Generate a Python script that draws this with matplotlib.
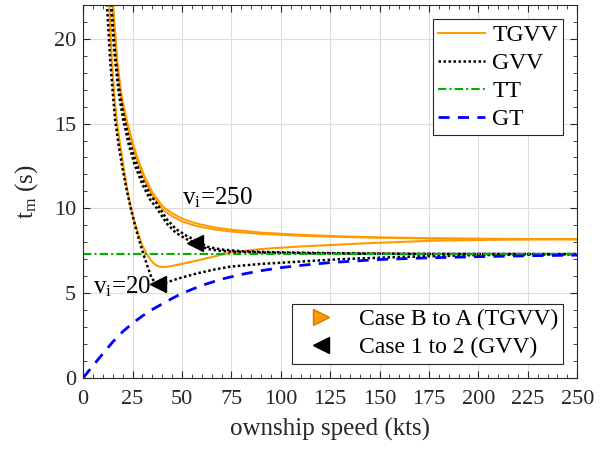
import matplotlib
matplotlib.use('Agg')
import matplotlib.pyplot as plt
from matplotlib.lines import Line2D
from matplotlib.ticker import MultipleLocator

plt.rcParams['font.family'] = ['Liberation Serif', 'DejaVu Serif']
plt.rcParams['mathtext.fontset'] = 'custom'
plt.rcParams['mathtext.rm'] = 'Liberation Serif'
plt.rcParams['mathtext.it'] = 'Liberation Serif:italic'

# TGVV, v_i = 250 (two near-identical passes)
tgvv_hi_x = [14.6, 15.0, 17.3, 19.5, 22.1, 25, 28, 31, 35, 40, 42, 46, 50, 56, 62, 68, 75, 90, 110, 130, 150, 175, 200, 225, 250]
tgvv_hi_a = [23.0, 22.3, 18.7, 16.6, 15.2, 13.9, 12.8, 11.9, 10.95, 10.15, 9.95, 9.65, 9.4, 9.15, 8.98, 8.85, 8.74, 8.57, 8.44, 8.35, 8.29, 8.24, 8.21, 8.19, 8.18]
tgvv_hi_b = [22.6, 21.9, 18.35, 16.3, 14.95, 13.68, 12.6, 11.71, 10.76, 9.97, 9.77, 9.47, 9.23, 9.0, 8.84, 8.73, 8.63, 8.49, 8.38, 8.31, 8.26, 8.22, 8.2, 8.18, 8.17]

# TGVV, v_i = 20
tgvv_lo_x = [12.6, 13.1, 14.5, 16, 17, 18.5, 20, 22, 24, 26, 28, 30, 32.2, 34, 35.5, 37, 39, 40.5, 43, 47.4, 53, 59.2, 66, 74.4, 90, 110, 143.5, 177, 211, 250]
tgvv_lo_y = [23.0, 22.3, 18.7, 16.3, 15.2, 13.9, 12.8, 11.3, 10.1, 9.2, 8.45, 7.8, 7.3, 6.98, 6.78, 6.63, 6.55, 6.53, 6.56, 6.66, 6.8, 6.96, 7.15, 7.39, 7.6, 7.75, 7.94, 8.09, 8.15, 8.18]

# GVV, v_i = 250 (two passes)
gvv_hi_x = [13.5, 14.0, 15, 16.2, 18, 20.3, 23, 26, 30, 34, 37.3, 42.3, 47, 52, 56.7, 63, 70, 80, 100, 130, 175, 250]
gvv_hi_a = [23.0, 22.3, 20.4, 18.7, 16.8, 15.2, 13.8, 12.6, 11.4, 10.5, 10.0, 9.1, 8.55, 8.2, 7.95, 7.6, 7.48, 7.42, 7.37, 7.33, 7.31, 7.3]
gvv_hi_b = [23.0, 22.6, 20.8, 19.1, 17.2, 15.6, 14.15, 12.95, 11.7, 10.8, 10.28, 9.36, 8.77, 8.4, 8.12, 7.73, 7.57, 7.47, 7.4, 7.35, 7.31, 7.3]

# GVV, v_i = 20
gvv_lo_x = [11.5, 11.9, 13.7, 15, 16.2, 18, 20, 22, 24, 26, 28, 30.5, 32.5, 34.6, 36.5, 38, 40, 42.2, 46, 50, 58.3, 66, 74.4, 90, 110, 130, 160, 190, 220, 250]
gvv_lo_y = [23.0, 22.3, 18.7, 16.8, 15.2, 13.7, 12.3, 11.1, 10.05, 9.1, 8.25, 7.3, 6.6, 5.9, 5.6, 5.52, 5.55, 5.62, 5.78, 5.92, 6.18, 6.38, 6.56, 6.72, 6.86, 7.0, 7.13, 7.22, 7.27, 7.3]

# TT is flat, GT rises from zero
tt_x = [0, 250]
tt_y = [7.3, 7.3]
gt_x = [0, 5, 10, 15, 20, 25, 30, 35, 40, 45, 50, 60, 70, 80, 90, 100, 110, 125, 150, 175, 200, 225, 250]
gt_y = [0, 0.72, 1.43, 2.12, 2.72, 3.22, 3.65, 4.03, 4.36, 4.68, 4.98, 5.45, 5.82, 6.1, 6.32, 6.5, 6.63, 6.8, 6.98, 7.08, 7.15, 7.2, 7.24]

# transition points for case 1 -> 2
case12_x = [38, 56.7]
case12_y = [5.52, 7.95]

orange = '#FF9900'
green = '#00B000'
ink = '#262626'

fig, ax = plt.subplots(figsize=(6.07, 4.53), dpi=100)
fig.subplots_adjust(left=0.137, right=0.951, bottom=0.166, top=0.989)

ax.plot(tgvv_hi_x, tgvv_hi_a, color=orange, lw=1.4, label='TGVV')
ax.plot(tgvv_hi_x, tgvv_hi_b, color=orange, lw=1.4)
ax.plot(tgvv_lo_x, tgvv_lo_y, color=orange, lw=1.5)

dot = (0, (1, 1))
ax.plot(gvv_hi_x, gvv_hi_a, color='black', lw=1.8, ls=dot, label='GVV')
ax.plot(gvv_hi_x, gvv_hi_b, color='black', lw=1.8, ls=dot)
ax.plot(gvv_lo_x, gvv_lo_y, color='black', lw=1.8, ls=dot)

ax.plot(tt_x, tt_y, color=green, lw=1.5, ls=(0, (4, 1.5, 1, 1.5)), label='TT')
ax.plot(gt_x, gt_y, color='#0000FF', lw=2, ls=(0, (4, 3)), label='GT')

ax.plot(case12_x, case12_y, ls='none', marker='<', ms=12, color='black')

ax.text(50.0, 10.25, r'v$_{\mathregular{i}}$=250', fontsize=18)
ax.text(4.9, 4.96, r'v$_{\mathregular{i}}$=20', fontsize=18)

ax.set_xlim(0, 250)
ax.set_ylim(0, 22)
ax.xaxis.set_major_locator(MultipleLocator(25))
ax.xaxis.set_minor_locator(MultipleLocator(5))
ax.yaxis.set_major_locator(MultipleLocator(5))
ax.yaxis.set_minor_locator(MultipleLocator(1))
ax.tick_params(which='both', direction='in', top=True, right=True, colors=ink, labelsize=16)
ax.tick_params(which='major', length=5, width=0.8)
ax.tick_params(which='minor', length=3, width=0.6)
ax.tick_params(axis='x', which='major', pad=9)
ax.tick_params(axis='y', which='major', pad=5)
ax.grid(True, which='major', color='#dcdcdc', lw=0.8)
ax.set_axisbelow(True)
for s in ax.spines.values():
    s.set_color(ink)
    s.set_linewidth(0.8)

ax.set_xlabel('ownship speed (kts)', fontsize=18, color=ink, labelpad=6)
ax.set_ylabel(r't$_{\mathregular{m}}$ (s)', fontsize=18, color=ink, labelpad=10)

leg1 = ax.legend(loc='upper right', fontsize=17, framealpha=1, fancybox=False, edgecolor=ink,
                 handlelength=2.0, labelspacing=0.28, borderaxespad=0.6, handletextpad=0.3,
                 borderpad=0.22)
leg1.get_frame().set_linewidth(0.8)
ax.add_artist(leg1)

case_handles = [
    Line2D([], [], ls='none', marker='>', ms=12, markerfacecolor=orange, markeredgecolor='#cc7a00'),
    Line2D([], [], ls='none', marker='<', ms=12, color='black'),
]
leg2 = ax.legend(case_handles, ['Case B to A (TGVV)', 'Case 1 to 2 (GVV)'], loc='lower right',
                 fontsize=17, framealpha=1, fancybox=False, edgecolor=ink, handlelength=2.0,
                 labelspacing=0.28, borderaxespad=0.6, borderpad=0.22, handletextpad=0.6)
leg2.get_frame().set_linewidth(0.8)

fig.savefig('out.png', dpi=100)
